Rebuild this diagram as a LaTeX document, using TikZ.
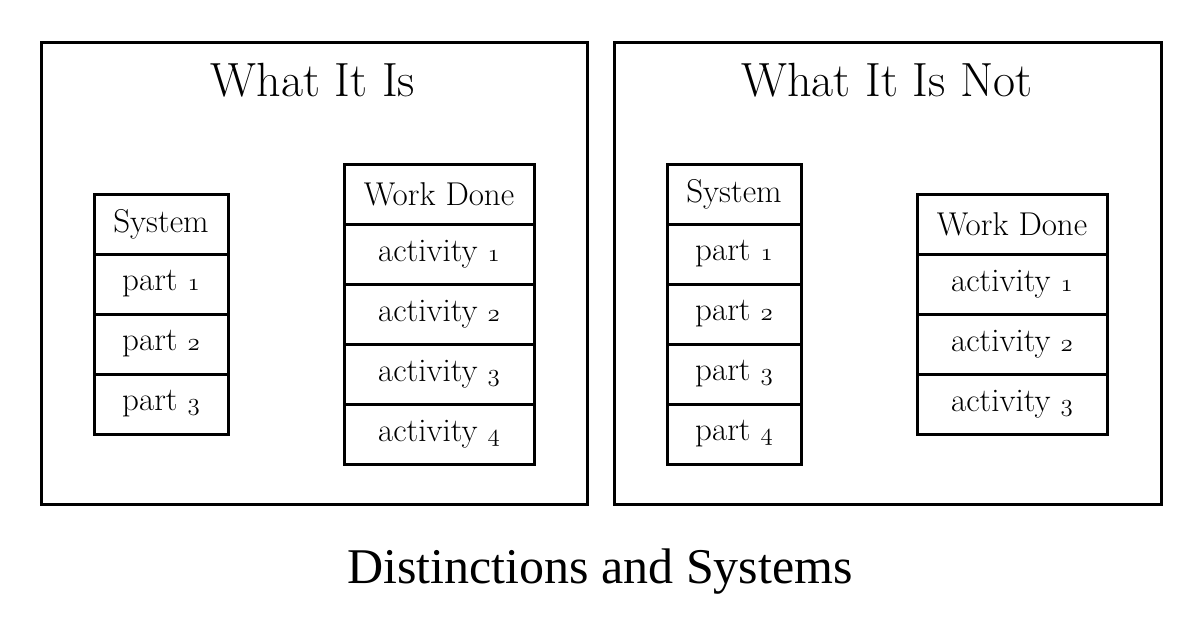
\documentclass[tikz,border=0pt]{standalone}
\usepackage{fontspec}
\newfontfamily\capfont{Liberation Serif}
\newcommand\osn[1]{{\fontsize{37}{38}\usefont{OML}{cmm}{m}{it}#1}}
\begin{document}
\begin{tikzpicture}[x=1pt,y=-1pt,
  frame/.style={draw,line width=3pt,anchor=north west,inner sep=0pt},
  cell/.style={draw,line width=3pt,anchor=north west,inner sep=0pt,font=\fontsize{33}{38}\selectfont},
  ttl/.style={font=\fontsize{48}{54}\selectfont},
]
\useasboundingbox (0,0) rectangle (1200,627);
% frames
\node[frame,minimum width=546pt,minimum height=462pt] (fl) at (39.5,40.5) {};
\node[frame,minimum width=547pt,minimum height=462pt] (fr) at (612.5,40.5) {};
\node[ttl] (tl) at (313,80) {What It Is};
\node[ttl] (tr) at (887,80) {What It Is Not};
% left system
\foreach \t [count=\i from 0] in {System,part \osn{1},part \osn{2},part \osn{3}}
  \node[cell,minimum width=134pt,minimum height=60pt] (ls\i) at (92.5,192.5+60*\i) {\t};
% left work done
\foreach \t [count=\i from 0] in {Work Done,activity \osn{1},activity \osn{2},activity \osn{3},activity \osn{4}}
  \node[cell,minimum width=190pt,minimum height=60pt] (lw\i) at (342.5,162.5+60*\i) {\t};
% right system
\foreach \t [count=\i from 0] in {System,part \osn{1},part \osn{2},part \osn{3},part \osn{4}}
  \node[cell,minimum width=134pt,minimum height=60pt] (rs\i) at (665.5,162.5+60*\i) {\t};
% right work done
\foreach \t [count=\i from 0] in {Work Done,activity \osn{1},activity \osn{2},activity \osn{3}}
  \node[cell,minimum width=190pt,minimum height=60pt] (rw\i) at (915.5,192.5+60*\i) {\t};
\node[font=\capfont\fontsize{50}{56}\selectfont] (cap) at (600,572) {Distinctions and Systems};
\end{tikzpicture}
\end{document}
